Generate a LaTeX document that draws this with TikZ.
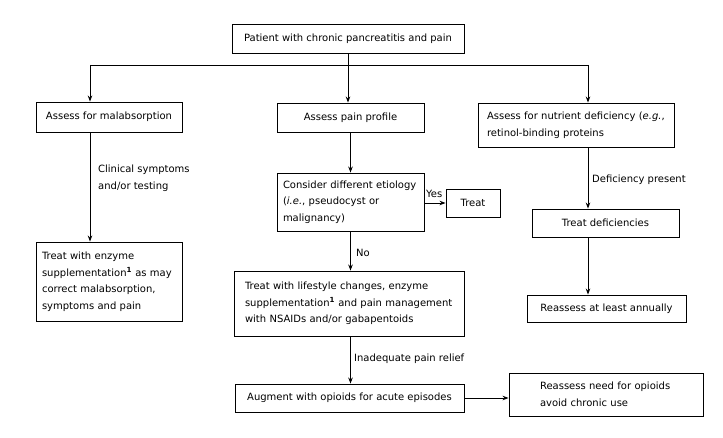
\documentclass[tikz,border=0pt]{standalone}
\usepackage{fontspec}
\setmainfont{DejaVu Sans}
\usetikzlibrary{arrows.meta,calc}
\tikzset{
  box/.style={draw, line width=0.9pt, inner sep=0pt, align=center},
  lbox/.style={draw, line width=0.9pt, inner ysep=0pt, align=left},
  conn/.style={line width=0.9pt},
  arr/.style={line width=0.9pt, -{Stealth[length=6pt,width=4.5pt]}},
  lab/.style={anchor=west, inner sep=0pt, align=left},
}
\begin{document}
\begin{tikzpicture}[x=1pt,y=-1pt,font=\fontsize{10}{16.5}\selectfont]
\useasboundingbox[fill=white] (0,0) rectangle (723,438);
% nodes
\node[box, minimum width=232, minimum height=29] (top) at (348,38.5) {Patient with chronic pancreatitis and pain};
\node[box, minimum width=146, minimum height=30] (mal) at (109,117) {Assess for malabsorption};
\node[box, minimum width=147, minimum height=29] (pain) at (350.5,117.5) {Assess pain profile};
\node[lbox, inner xsep=9pt, text width=178pt, minimum height=44] (nut) at (576,125) {Assess for nutrient deficiency (\textit{e.g.},\\retinol-binding proteins};
\node[lbox, inner xsep=6pt, text width=134pt, minimum height=79] (enz) at (109,281.5) {Treat with enzyme\\supplementation\textsuperscript{\textbf{1}} as may\\correct malabsorption,\\symptoms and pain};
\node[lbox, inner xsep=6pt, text width=135pt, minimum height=58] (cons) at (350.5,202) {Consider different etiology\\(\textit{i.e.}, pseudocyst or\\malignancy)};
\node[box, minimum width=54, minimum height=28] (treat) at (473,203) {Treat};
\node[lbox, inner xsep=11pt, text width=208pt, minimum height=65] (lif) at (349,303.5) {Treat with lifestyle changes, enzyme\\supplementation\textsuperscript{\textbf{1}} and pain management\\with NSAIDs and/or gabapentoids};
\node[box, minimum width=147, minimum height=28] (def) at (605.5,223) {Treat deficiencies};
\node[box, minimum width=159, minimum height=27] (ann) at (606.5,308.5) {Reassess at least annually};
\node[box, minimum width=229, minimum height=28] (aug) at (349.5,398) {Augment with opioids for acute episodes};
\node[lbox, inner xsep=31pt, text width=132pt, minimum height=43] (opi) at (606,394.5) {Reassess need for opioids\\avoid chronic use};
% junctions
\coordinate (jm) at (348,65);
\coordinate (jl) at (90,65);
\coordinate (jr) at (588,65);
% connectors
\draw[conn] (top.south) -- (jm);
\draw[conn] (jl) -- (jr);
\draw[arr] (jl) -- (jl |- mal.north);
\draw[arr] (jm) -- (jm |- pain.north);
\draw[arr] (jr) -- (jr |- nut.north);
\draw[arr] (jl |- mal.south) -- (jl |- enz.north);
\draw[arr] (pain.south) -- (cons.north);
\draw[arr] (cons.east |- treat.west) -- (treat.west);
\draw[arr] (cons.south) -- (cons.south |- lif.north);
\draw[arr] (lif.south -| cons.south) -- (cons.south |- aug.north);
\draw[arr] (aug.east) -- (opi.west |- aug.east);
\draw[arr] (jr |- nut.south) -- (jr |- def.north);
\draw[arr] (jr |- def.south) -- (jr |- ann.north);
% labels
\node[lab] (l1) at (98,178) {Clinical symptoms\\and/or testing};
\node[lab] (l2) at (426,194) {Yes};
\node[lab] (l3) at (356,253) {No};
\node[lab] (l4) at (592,180) {Deficiency present};
\node[lab] (l5) at (354,359) {Inadequate pain relief};
\end{tikzpicture}
\end{document}
